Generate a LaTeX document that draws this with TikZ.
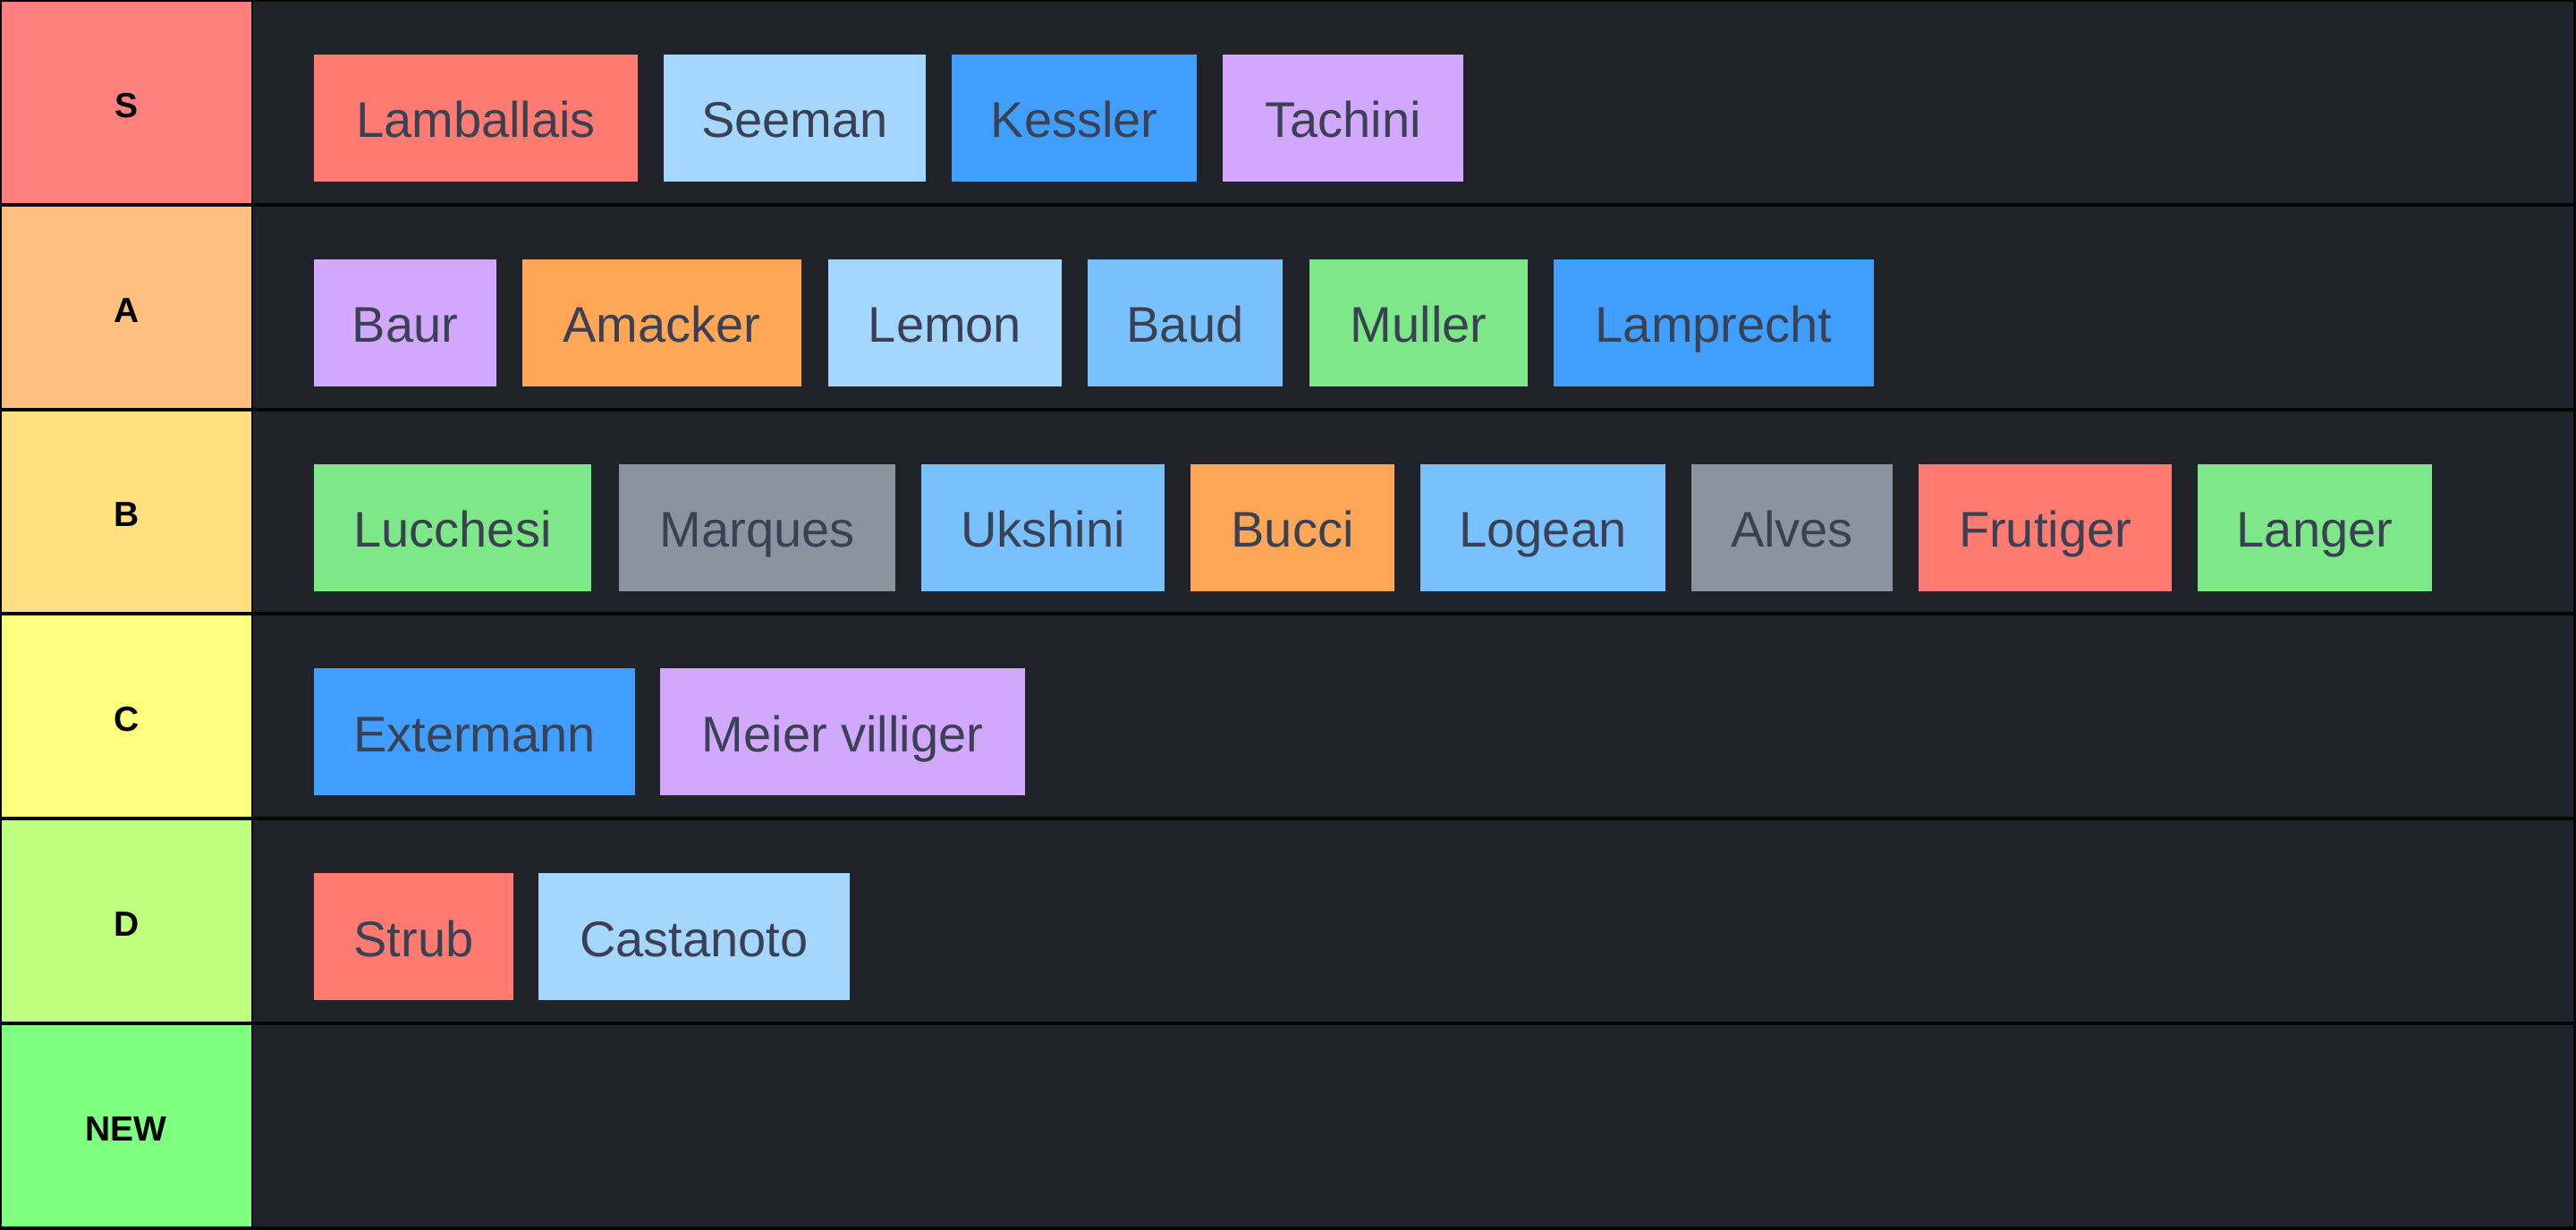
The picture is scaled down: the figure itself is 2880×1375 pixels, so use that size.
\documentclass[tikz,border=0pt]{standalone}
\usepackage{fontspec}
\setmainfont{Liberation Sans}
\definecolor{frame}{HTML}{050506}
\definecolor{bg}{HTML}{21232B}
\definecolor{txt}{HTML}{3A4152}
\definecolor{tierS}{HTML}{FF7F7F}
\definecolor{tierA}{HTML}{FFBF7F}
\definecolor{tierB}{HTML}{FFDF7F}
\definecolor{tierC}{HTML}{FFFF7F}
\definecolor{tierD}{HTML}{BFFF7F}
\definecolor{tierN}{HTML}{7FFF7F}
\definecolor{cRed}{HTML}{FF7B72}
\definecolor{cSky}{HTML}{A5D6FF}
\definecolor{cBlue}{HTML}{409EFF}
\definecolor{cMid}{HTML}{79C0FF}
\definecolor{cPurple}{HTML}{D2A8FF}
\definecolor{cOrange}{HTML}{FFA657}
\definecolor{cGreen}{HTML}{7EE787}
\definecolor{cGray}{HTML}{8B949E}
\begin{document}
\begin{tikzpicture}[x=1pt,y=-1pt,
  tile/.style={rectangle, inner sep=0pt, minimum height=142pt, text=txt,
    font=\fontsize{56}{60}\selectfont, text height=44pt, text depth=0pt},
  tier/.style={rectangle, inner sep=0pt, minimum width=278.5pt, minimum height=224.75pt,
    font=\fontsize{39}{40}\selectfont\bfseries, text=black, text height=34pt, text depth=0pt},
  lane/.style={rectangle, inner sep=0pt, minimum width=2594pt, minimum height=224.75pt, fill=bg}]
\useasboundingbox (0,0) rectangle (2880,1375);
\fill[frame] (0,0) rectangle (2880,1375);
% tier labels
\node[tier, fill=tierS] (tS) at (141.25,114.375) {S};
\node[tier, fill=tierA] (tA) at (141.25,343.125) {A};
\node[tier, fill=tierB] (tB) at (141.25,571.875) {B};
\node[tier, fill=tierC] (tC) at (141.25,800.625) {C};
\node[tier, fill=tierD] (tD) at (141.25,1029.375) {D};
\node[tier, fill=tierN] (tN) at (141.25,1258.125) {NEW};
% lanes
\node[lane] (lS) at (1580,114.375) {};
\node[lane] (lA) at (1580,343.125) {};
\node[lane] (lB) at (1580,571.875) {};
\node[lane] (lC) at (1580,800.625) {};
\node[lane] (lD) at (1580,1029.375) {};
\node[lane] (lN) at (1580,1258.125) {};
% S row
\node[tile, fill=cRed, minimum width=362pt] (lamballais) at (532,132) {Lamballais};
\node[tile, fill=cSky, minimum width=293pt] (seeman) at (888.5,132) {Seeman};
\node[tile, fill=cBlue, minimum width=274pt] (kessler) at (1201,132) {Kessler};
\node[tile, fill=cPurple, minimum width=269pt] (tachini) at (1501.5,132) {Tachini};
% A row
\node[tile, fill=cPurple, minimum width=204pt] (baur) at (453,360.75) {Baur};
\node[tile, fill=cOrange, minimum width=312pt] (amacker) at (740,360.75) {Amacker};
\node[tile, fill=cSky, minimum width=261pt] (lemon) at (1056.5,360.75) {Lemon};
\node[tile, fill=cMid, minimum width=218pt] (baud) at (1325,360.75) {Baud};
\node[tile, fill=cGreen, minimum width=244pt] (muller) at (1586,360.75) {Muller};
\node[tile, fill=cBlue, minimum width=358pt] (lamprecht) at (1916,360.75) {Lamprecht};
% B row
\node[tile, fill=cGreen, minimum width=310pt] (lucchesi) at (506,589.5) {Lucchesi};
\node[tile, fill=cGray, minimum width=309pt] (marques) at (846.5,589.5) {Marques};
\node[tile, fill=cMid, minimum width=272pt] (ukshini) at (1166,589.5) {Ukshini};
\node[tile, fill=cOrange, minimum width=228pt] (bucci) at (1445,589.5) {Bucci};
\node[tile, fill=cMid, minimum width=274pt] (logean) at (1725,589.5) {Logean};
\node[tile, fill=cGray, minimum width=225pt] (alves) at (2003.5,589.5) {Alves};
\node[tile, fill=cRed, minimum width=283pt] (frutiger) at (2286.5,589.5) {Frutiger};
\node[tile, fill=cGreen, minimum width=262pt] (langer) at (2588,589.5) {Langer};
% C row
\node[tile, fill=cBlue, minimum width=359pt] (extermann) at (530.5,818.25) {Extermann};
\node[tile, fill=cPurple, minimum width=408pt] (meier) at (942,818.25) {Meier villiger};
% D row
\node[tile, fill=cRed, minimum width=223pt] (strub) at (462.5,1047) {Strub};
\node[tile, fill=cSky, minimum width=348pt] (castanoto) at (776,1047) {Castanoto};
\end{tikzpicture}
\end{document}
